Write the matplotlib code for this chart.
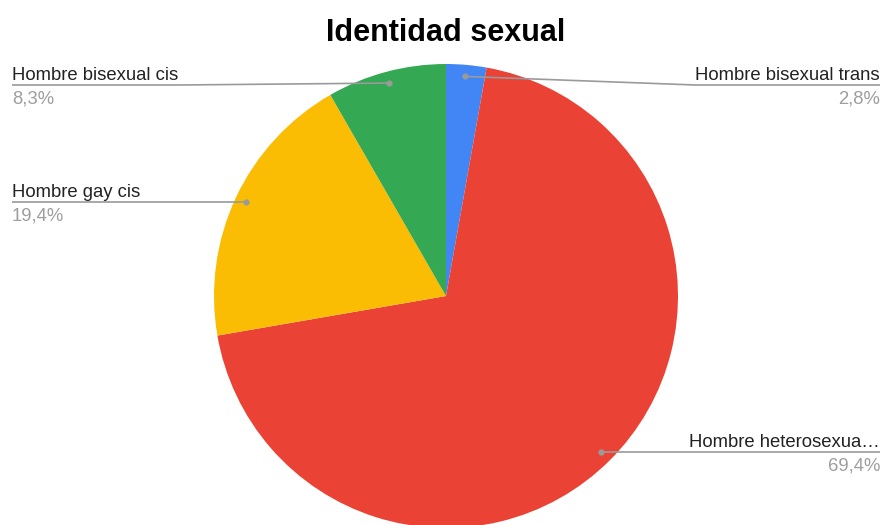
import matplotlib
matplotlib.use("Agg")
import matplotlib.pyplot as plt
import numpy as np

plt.rcParams['font.family'] = ['Liberation Sans', 'DejaVu Sans']

# ---- data ----
title = "Identidad sexual"
categories = ["Hombre bisexual trans", "Hombre heterosexua…", "Hombre gay cis", "Hombre bisexual cis"]
values = [2.8, 69.4, 19.4, 8.3]
colors = ["#4285F4", "#EA4335", "#FBBC04", "#34A853"]

W, H = 883, 525
fig = plt.figure(figsize=(W / 100, H / 100), dpi=100)
ax = fig.add_axes([0, 0, 1, 1])

cx, cy, R = 446, H - 296, 232
wedges, _ = ax.pie(values, colors=colors, startangle=90, counterclock=False,
                   center=(cx, cy), radius=R, wedgeprops=dict(linewidth=0))
ax.set_xlim(0, W)
ax.set_ylim(0, H)
ax.set_aspect('auto')
ax.axis('off')

fig.text(446 / W, 1 - 41 / H, title, ha='center', va='baseline',
         fontsize=22, fontweight='bold', color='#000000')

renderer = fig.canvas.get_renderer()
total = sum(values)
line_col = '#9a9a9a'
for w, name, v in zip(wedges, categories, values):
    ang = np.deg2rad((w.theta1 + w.theta2) / 2)
    dx, dy = cx + 0.95 * R * np.cos(ang), cy + 0.95 * R * np.sin(ang)
    py_dot = H - dy
    ly = max(py_dot, 85)
    right = np.cos(ang) > 0
    pct = f"{v:.1f}".replace('.', ',') + "%"
    if right:
        tx, ha = 880, 'right'
    else:
        tx, ha = 12, 'left'
    t = ax.text(tx, H - ly + 5, name, ha=ha, va='baseline', fontsize=13.3, color='#222222')
    ax.text(tx, H - ly - 5, pct, ha=ha, va='top', fontsize=13.3, color='#9e9e9e')
    bb = t.get_window_extent(renderer)
    if right:
        x_near = bb.x0
        xs = [880, x_near, dx]
    else:
        x_near = bb.x1
        xs = [12, x_near, dx]
    ys = [H - ly, H - ly, dy]
    ax.plot(xs, ys, color=line_col, lw=1.2, solid_capstyle='butt')
    ax.plot([dx], [dy], 'o', ms=4.5, color='#9a9a9a', mec='none')

fig.savefig("out.png", dpi=100)
